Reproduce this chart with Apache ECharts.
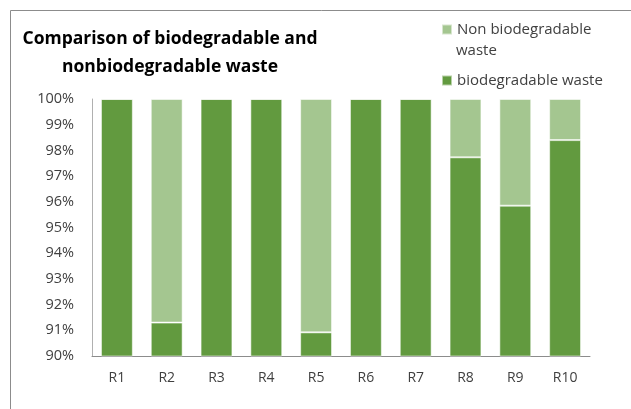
<!DOCTYPE html>
<html>
<head>
<meta charset="utf-8">
<script src="https://cdn.jsdelivr.net/npm/echarts@6/dist/echarts.min.js"></script>
<style>html,body{margin:0;padding:0;background:#fff;}#c{width:631px;height:409px;}</style>
</head>
<body>
<div id="c"></div>
<script>
var categories = ['R1','R2','R3','R4','R5','R6','R7','R8','R9','R10'];
var bioValues = [100, 91.3, 100, 100, 90.92, 100, 100, 97.73, 95.85, 98.4];
var nonBioValues = [0, 8.7, 0, 0, 9.08, 0, 0, 2.27, 4.15, 1.6];
var yTickLabels = ['90%','91%','92%','93%','94%','95%','96%','97%','98%','99%','100%'];

var chart = echarts.init(document.getElementById('c'));
var font = 'Open Sans';
var legendText = {fontFamily: font, fontSize: 15, color: '#404040'};
chart.setOption({
  animation: false,
  backgroundColor: '#fff',
  title: {
    text: 'Comparison of biodegradable and\nnonbiodegradable waste',
    left: 165, top: 20, textAlign: 'center',
    textStyle: {fontFamily: font, fontWeight: 'bold', fontSize: 17.5, color: '#000', lineHeight: 28}
  },
  legend: [
    {orient: 'vertical', left: 436, top: 17, itemWidth: 10, itemHeight: 10, icon: 'rect',
     data: ['Non biodegradable waste'],
     formatter: function () { return 'Non biodegradable'; },
     textStyle: legendText},
    {orient: 'vertical', left: 436, top: 68, itemWidth: 10, itemHeight: 10, icon: 'rect',
     data: ['biodegradable waste'], textStyle: legendText}
  ],
  graphic: [
    {type: 'rect', shape: {x: 10.5, y: 10.5, width: 800, height: 600}, style: {fill: 'none', stroke: '#8c8c8c', lineWidth: 1}, silent: true},
    {type: 'text', left: 456, top: 43, style: {text: 'waste', fontFamily: font, fontSize: 15, fill: '#404040'}, silent: true}
  ],
  grid: {left: 92, right: 41, top: 99, bottom: 53},
  xAxis: {
    type: 'category', data: categories,
    axisLine: {lineStyle: {color: '#8c8c8c'}},
    axisTick: {show: false},
    axisLabel: {fontFamily: font, fontSize: 14, color: '#404040', margin: 15}
  },
  yAxis: {
    type: 'value', min: 90, max: 100, interval: 1,
    axisLine: {show: true, lineStyle: {color: '#b0b0b0'}},
    axisTick: {show: false},
    splitLine: {show: false},
    axisLabel: {fontFamily: font, fontSize: 14.5, color: '#404040', margin: 18,
      formatter: function (v) { return yTickLabels[Math.round(v - 90)]; }}
  },
  series: [
    {name: 'biodegradable waste', type: 'bar', stack: 's', data: bioValues, barCategoryGap: '36%',
     itemStyle: {color: '#629A3F', borderColor: 'rgba(255,255,255,0.55)', borderWidth: 1}},
    {name: 'Non biodegradable waste', type: 'bar', stack: 's', data: nonBioValues, barCategoryGap: '36%',
     itemStyle: {color: '#A4C690', borderColor: 'rgba(255,255,255,0.55)', borderWidth: 1}}
  ]
});
</script>
</body>
</html>
